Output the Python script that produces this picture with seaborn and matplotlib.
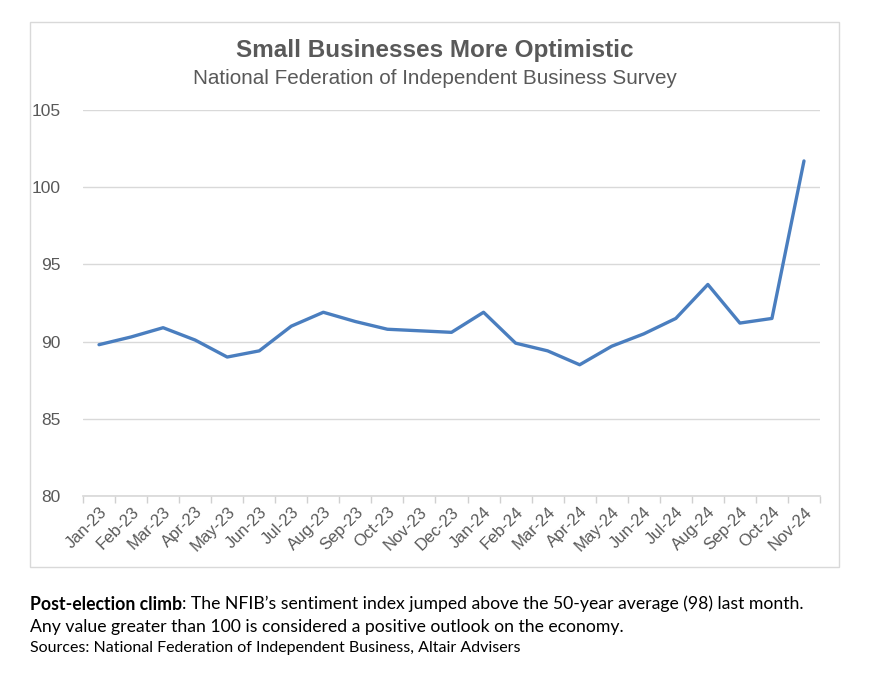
import matplotlib
matplotlib.use("Agg")
import matplotlib.pyplot as plt
import seaborn as sns
import pandas as pd
import numpy as np
from matplotlib.patches import Rectangle

months = ["Jan-23", "Feb-23", "Mar-23", "Apr-23", "May-23", "Jun-23", "Jul-23", "Aug-23",
          "Sep-23", "Oct-23", "Nov-23", "Dec-23", "Jan-24", "Feb-24", "Mar-24", "Apr-24",
          "May-24", "Jun-24", "Jul-24", "Aug-24", "Sep-24", "Oct-24", "Nov-24"]
index_values = [89.8, 90.3, 90.9, 90.1, 89.0, 89.4, 91.0, 91.9, 91.3, 90.8, 90.7, 90.6,
                91.9, 89.9, 89.4, 88.5, 89.7, 90.5, 91.5, 93.7, 91.2, 91.5, 101.7]
y_ticks = [80, 85, 90, 95, 100, 105]

title = "Small Businesses More Optimistic"
subtitle = "National Federation of Independent Business Survey"

df = pd.DataFrame({"month": months, "value": index_values, "pos": np.arange(len(months))})

sns.set_theme(style="white")
plt.rcParams['font.family'] = ['Liberation Sans', 'DejaVu Sans']

fig = plt.figure(figsize=(8.71, 6.85), dpi=100)
ax = fig.add_axes([83/871, 1-496/685, (820-83)/871, (496-110)/685])

sns.lineplot(data=df, x="pos", y="value", ax=ax, color="#4A7EBF", linewidth=2.4)

ax.set_xlim(-0.5, len(months) - 0.5)
ax.set_ylim(80, 105)
ax.set_yticks(y_ticks)
ax.set_yticklabels([str(t) for t in y_ticks], color="#595959", fontsize=12.5)
ax.set_xticks(np.arange(len(months)))
ax.set_xticklabels(months, rotation=45, ha="right", rotation_mode="anchor",
                   color="#595959", fontsize=12)
ax.tick_params(axis="x", length=0, pad=6)
ax.tick_params(axis="y", length=0, pad=16)
ax.set_xticks(np.arange(-0.5, len(months)), minor=True)
ax.tick_params(axis="x", which="minor", length=5, color="#D0D0D0", width=1, direction="out", bottom=True)
ax.grid(axis="y", color="#D9D9D9", linewidth=1)
ax.set_axisbelow(True)
for s in ["top", "right", "left"]:
    ax.spines[s].set_visible(False)
ax.spines["bottom"].set_color("#D9D9D9")
ax.set_xlabel("")
ax.set_ylabel("")

fig.patches.append(Rectangle((30/871, 1-567/685), (839-30)/871, (567-22)/685,
                             transform=fig.transFigure, fill=False,
                             edgecolor="#D9D9D9", linewidth=1))

fig.text(435/871, 1-51/685, title, ha="center", va="center", fontsize=17.5,
         fontweight="bold", color="#595959")
fig.text(435/871, 1-78/685, subtitle, ha="center", va="center", fontsize=14.9,
         color="#595959")

foot_font = ['Lato', 'DejaVu Sans']
bold_t = fig.text(30/871, 1-604/685, "Post-election climb", ha="left", va="center", fontsize=12.7,
                  fontweight="bold", family=foot_font, color="black")
fig.canvas.draw()
r = bold_t.get_window_extent()
fig.text(r.x1/871, 1-604/685, ": The NFIB\u2019s sentiment index jumped above the 50-year average (98) last month.",
         ha="left", va="center", fontsize=12.7, family=foot_font, color="black")
fig.text(30/871, 1-627/685, "Any value greater than 100 is considered a positive outlook on the economy.",
         ha="left", va="center", fontsize=12.7, family=foot_font, color="black")
fig.text(30/871, 1-648/685, "Sources: National Federation of Independent Business, Altair Advisers",
         ha="left", va="center", fontsize=11.5, family=foot_font, color="black")

fig.savefig("out.png", dpi=100, facecolor="white")
